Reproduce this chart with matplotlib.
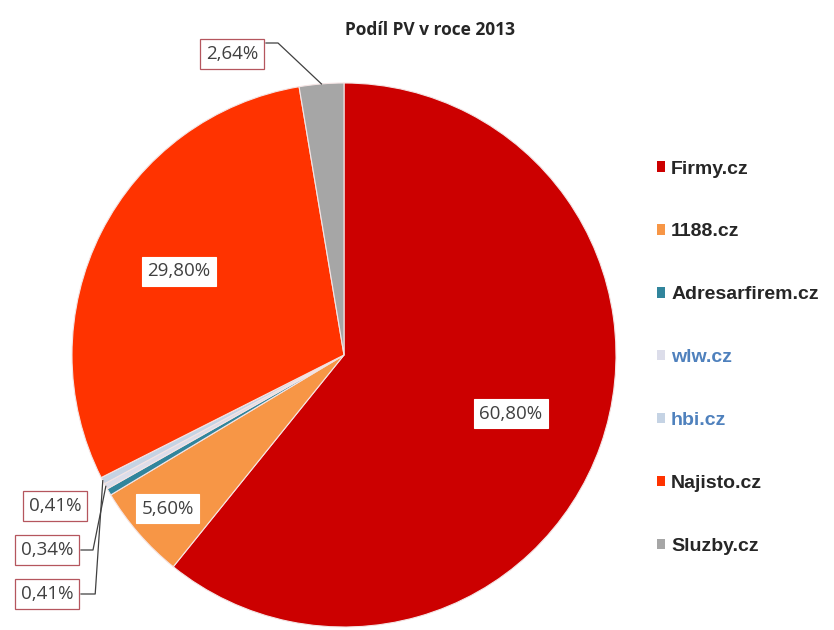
import numpy as np
import matplotlib.pyplot as plt

# data
sites = ['Firmy.cz', '1188.cz', 'Adresarfirem.cz', 'wlw.cz', 'hbi.cz', 'Najisto.cz', 'Sluzby.cz']
shares = [60.80, 5.60, 0.41, 0.34, 0.41, 29.80, 2.64]
colors = ['#CC0000', '#F79646', '#31859C', '#DCDDEA', '#C5D3E4', '#FF3300', '#A6A6A6']
legend_text_colors = ['#262626', '#262626', '#262626', '#4F81BD', '#4F81BD', '#262626', '#262626']

W, H = 834, 630
cx, cy, R = 344, 355, 272  # pie centre and radius in pixels

fig = plt.figure(figsize=(W / 100, H / 100), dpi=100)
ax = fig.add_axes([(cx - R) / W, (H - cy - R) / H, 2 * R / W, 2 * R / H])

wedges, _ = ax.pie(shares, colors=colors, startangle=90, counterclock=False,
                   radius=1, wedgeprops=dict(edgecolor='#F4E4E4', linewidth=0.8))
ax.set_xlim(-1, 1)
ax.set_ylim(-1, 1)
ax.set_aspect('equal')
ax.axis('off')

def fmt(v):
    return ('%.2f%%' % v).replace('.', ',')

def px(x, y):
    # pixel position -> data coords of the pie axes
    return (x - cx) / R, (cy - y) / R

label_font = dict(fontsize=13.5, color='#404040', family='Open Sans', ha='center', va='center')

# big slices: label inside the wedge
inside = {0: 0.65, 1: 0.86, 5: 0.68}
for i, rr in inside.items():
    w = wedges[i]
    ang = np.deg2rad((w.theta1 + w.theta2) / 2)
    ax.text(rr * np.cos(ang), rr * np.sin(ang), fmt(shares[i]), **label_font,
            bbox=dict(boxstyle='square,pad=0.3', fc='white', ec='white', lw=0.8))

# small slices: boxed labels outside with leader lines
outside = {2: (55, 506), 3: (47, 550), 4: (47, 594), 6: (232, 54)}
for i, (bx, by) in outside.items():
    w = wedges[i]
    ang = np.deg2rad((w.theta1 + w.theta2) / 2)
    ex, ey = np.cos(ang), np.sin(ang)
    tx, ty = px(bx, by)
    ax.text(tx, ty, fmt(shares[i]), **label_font, clip_on=False,
            bbox=dict(boxstyle='square,pad=0.3', fc='white', ec='#B5565E', lw=0.9))
    if i == 6:
        x1, y1 = px(bx + 34, by - 11)
        x2, y2 = px(bx + 46, by - 11)
        ax.plot([x1, x2, ex], [y1, y2, ey], color='#404040', lw=0.9, clip_on=False)
    elif i != 2:
        x1, y1 = px(bx + 34, by)
        x2, y2 = px(bx + 46 + (by - 550) * 0.05, by)
        ax.plot([x1, x2, ex], [y1, y2, ey], color='#404040', lw=0.9, clip_on=False)

fig.text(430 / W, 1 - 30 / H, 'Podíl PV v roce 2013', ha='center', va='center',
         fontsize=12.5, fontweight='bold', color='#262626', family='Open Sans')

leg = fig.legend(wedges, sites, loc='upper left', bbox_to_anchor=(639 / W, 1 - 143 / H),
                 frameon=False, handlelength=0.45, handleheight=0.45, handletextpad=0.3,
                 labelspacing=2.36, prop=dict(size=14, weight='bold', family='Liberation Sans'))
for t, c in zip(leg.get_texts(), legend_text_colors):
    t.set_color(c)
for h in leg.legend_handles:
    h.set_edgecolor('none')

fig.savefig('out.png', dpi=100, facecolor='white')
